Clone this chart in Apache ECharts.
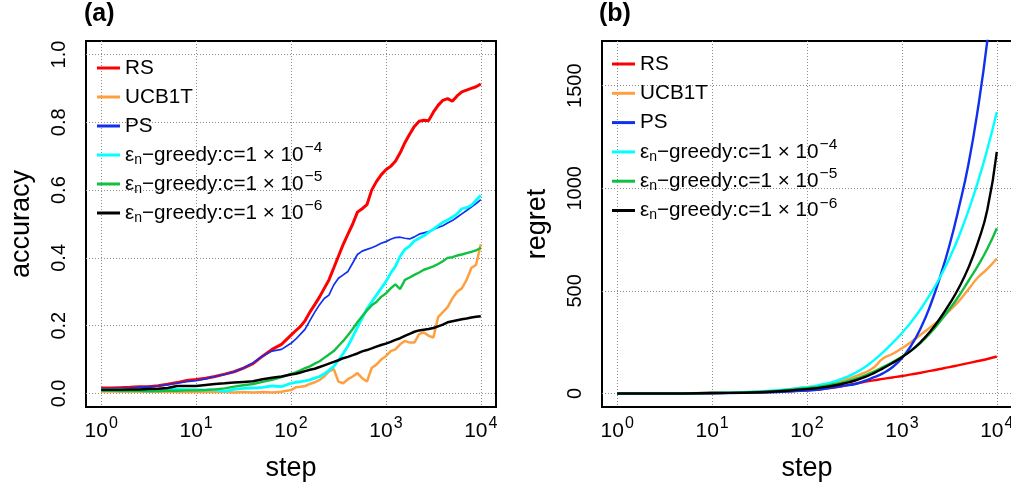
<!DOCTYPE html>
<html>
<head>
<meta charset="utf-8">
<script src="https://cdn.jsdelivr.net/npm/echarts@6/dist/echarts.min.js"></script>
<style>
  html, body { margin: 0; padding: 0; background: #fff; }
  #chart { width: 1011px; height: 486px; }
</style>
</head>
<body>
<div id="chart"></div>
<script>
// ---------- data ----------
const seriesNames = ['RS', 'UCB1T', 'PS', 'eps4', 'eps5', 'eps6'];
const expLabels = { eps4: '−4', eps5: '−5', eps6: '−6' };
const xTicks = [1, 10, 100, 1000, 10000];
const accTicks = [0, 0.2, 0.4, 0.6, 0.8, 1.0];
const regTicks = [0, 500, 1000, 1500];

// panel (a): accuracy vs step
const stepsA = [1, 1.26, 1.58, 2, 2.51, 3.16, 3.98, 5.01, 6.31, 7.94, 10, 12.6, 15.8, 20, 25.1, 31.6, 39.8, 50.1, 63.1, 79.4, 100,
  112, 126, 141, 158, 178, 200, 224, 251, 282, 316, 355, 398, 447, 501, 562, 631, 708, 794, 891, 1000,
  1122, 1259, 1413, 1585, 1778, 1995, 2239, 2512, 2818, 3162, 3548, 3981, 4467, 5012, 5623, 6310, 7079, 7943, 8913, 10000];
const accRS = [.016,.016,.017,.018,.02,.02,.023,.027,.032,.038,.041,.045,.05,.057,.064,.075,.088,.11,.13,.145,.172,
  .185,.198,.215,.24,.262,.285,.31,.335,.37,.405,.44,.47,.5,.535,.545,.557,.6,.625,.645,.66,
  .67,.685,.71,.74,.765,.788,.803,.806,.805,.83,.85,.865,.87,.862,.878,.89,.895,.9,.905,.913];
const accUCB = [.006,.006,.006,.006,.006,.006,.005,.005,.004,.004,.004,.005,.004,.004,.003,.004,.003,.004,.003,.005,.01,
  .018,.02,.022,.028,.033,.04,.05,.065,.072,.035,.03,.042,.05,.06,.045,.035,.075,.085,.1,.11,
  .125,.13,.145,.155,.15,.15,.175,.18,.17,.165,.225,.24,.255,.28,.3,.31,.335,.37,.38,.44];
const accPS = [.014,.014,.015,.016,.018,.02,.022,.026,.03,.035,.038,.043,.05,.056,.064,.075,.09,.11,.125,.13,.148,
  .16,.175,.19,.215,.24,.262,.28,.29,.32,.34,.35,.36,.385,.41,.42,.425,.43,.436,.443,.448,
  .455,.46,.461,.458,.456,.462,.47,.474,.478,.484,.49,.495,.503,.51,.52,.53,.54,.55,.56,.572];
const accEps4 = [.011,.011,.011,.011,.011,.011,.012,.012,.012,.011,.011,.01,.011,.006,.012,.015,.016,.018,.022,.02,.03,
  .033,.035,.037,.04,.045,.05,.058,.068,.08,.098,.118,.14,.167,.195,.222,.25,.27,.29,.31,.33,
  .355,.375,.405,.425,.435,.45,.458,.465,.475,.485,.495,.505,.512,.52,.53,.545,.548,.555,.57,.585];
const accEps5 = [.008,.008,.007,.007,.007,.006,.007,.008,.008,.009,.009,.01,.012,.015,.02,.024,.028,.034,.04,.048,.058,
  .062,.068,.075,.08,.088,.095,.105,.115,.125,.14,.155,.172,.19,.21,.228,.245,.26,.27,.285,.295,
  .31,.322,.308,.335,.342,.35,.357,.365,.37,.375,.382,.39,.4,.402,.407,.41,.414,.418,.422,.43];
const accEps6 = [.011,.011,.011,.012,.012,.013,.014,.016,.022,.022,.022,.025,.028,.03,.032,.034,.036,.042,.046,.05,.056,
  .058,.062,.066,.07,.073,.078,.083,.088,.093,.098,.104,.108,.113,.118,.124,.128,.133,.138,.143,.147,
  .152,.158,.163,.17,.176,.182,.186,.188,.19,.193,.198,.203,.21,.213,.216,.219,.221,.224,.226,.228];

// panel (b): regret vs step
const stepsB = [1, 3.16, 10, 31.6, 100, 126, 158, 200, 251, 316, 398, 501, 631, 794, 1000,
  1259, 1585, 1995, 2512, 3162, 3981, 5012, 6310, 7943, 10000];
const regRS = [0,0,2,5,15,19,24,30,38,47,56,64,71,78,85,93,101,110,119,128,138,148,158,168,180];
const regUCB = [0,0,2,8,30,36,44,54,66,82,100,125,170,192,220,252,287,323,360,402,450,507,565,607,658];
const regPS = [0,0,1,4,14,18,24,31,38,45,60,78,98,128,172,235,320,430,565,720,905,1115,1385,1720,2150];
const regEps4 = [0,1,3,10,30,38,48,60,77,98,125,160,200,245,295,350,413,485,565,658,765,890,1030,1190,1372];
const regEps5 = [0,0,2,7,26,31,38,46,56,70,86,105,128,152,179,210,248,295,350,410,475,548,622,705,805];
const regEps6 = [0,0,2,6,21,26,32,40,50,62,78,98,122,148,177,210,252,303,365,435,515,612,735,895,1177];

// ---------- styles ----------
const FONT = 'Liberation Sans, Arial, Helvetica, sans-serif';
const colors = { RS: '#ff0000', UCB1T: '#ffa040', PS: '#1030f0', eps4: '#00ffff', eps5: '#10c040', eps6: '#000000' };
const widthA = { RS: 3, UCB1T: 2.5, PS: 1.7, eps4: 2.8, eps5: 2.4, eps6: 2.5 };

const accData = { RS: accRS, UCB1T: accUCB, PS: accPS, eps4: accEps4, eps5: accEps5, eps6: accEps6 };
const regData = { RS: regRS, UCB1T: regUCB, PS: regPS, eps4: regEps4, eps5: regEps5, eps6: regEps6 };

function legendLabel(name) {
  if (expLabels[name]) {
    return '{m|ε}{sub|n}{m|−greedy:c=1 × 10}{sup|' + expLabels[name] + '}';
  }
  // trailing blank superscript keeps every legend row the same height
  return '{m|' + name + '}{sup| }';
}
const legendRich = {
  m: { fontSize: 20.7, fontFamily: FONT, color: '#000', lineHeight: 24 },
  sub: { fontSize: 14, fontFamily: FONT, color: '#000', lineHeight: 24, padding: [10, 0, 0, 0] },
  sup: { fontSize: 15.5, fontFamily: FONT, color: '#000', lineHeight: 24, padding: [0, 0, 14, 1] }
};

const gridLine = { show: true, lineStyle: { color: '#8c8c8c', width: 1, type: [1, 2] } };

function xAxisCfg(gridIndex) {
  return {
    type: 'log', logBase: 10, gridIndex,
    min: 0.6918, max: 14454,
    axisLine: { show: false },
    axisTick: { show: false, customValues: xTicks },
    splitLine: gridLine,
    axisLabel: {
      customValues: xTicks, margin: 9, color: '#000',
      formatter: v => '{b|10}{s|' + Math.round(Math.log10(v)) + '}',
      rich: {
        b: { fontSize: 21, fontFamily: FONT, color: '#000' },
        s: { fontSize: 16, fontFamily: FONT, color: '#000', padding: [0, 0, 14, 1] }
      }
    },
    name: 'step', nameLocation: 'middle', nameGap: 48,
    nameTextStyle: { fontSize: 27, fontFamily: FONT, color: '#000' }
  };
}

function yAxisCfg(gridIndex, min, max, ticks, fmt, name) {
  return {
    type: 'value', gridIndex, min, max,
    axisLine: { show: false },
    axisTick: { show: false, customValues: ticks },
    splitLine: gridLine,
    axisLabel: {
      customValues: ticks, rotate: 90, margin: 17, color: '#000',
      fontSize: 20, fontFamily: FONT, formatter: fmt
    },
    name, nameLocation: 'middle', nameGap: 51, nameRotate: 90,
    nameTextStyle: { fontSize: 27, fontFamily: FONT, color: '#000' }
  };
}

const series = [];
seriesNames.forEach(n => {
  series.push({
    name: n, type: 'line', xAxisIndex: 0, yAxisIndex: 0,
    data: stepsA.map((s, i) => [s, accData[n][i]]),
    showSymbol: false, color: colors[n],
    lineStyle: { color: colors[n], width: widthA[n] },
    animation: false, clip: true
  });
});
seriesNames.forEach(n => {
  series.push({
    name: n, type: 'line', xAxisIndex: 1, yAxisIndex: 1,
    data: stepsB.map((s, i) => [s, regData[n][i]]),
    showSymbol: false, smooth: 0.5, color: colors[n],
    lineStyle: { color: colors[n], width: 2.4 },
    animation: false, clip: true
  });
});

function legendCfg(left, top, gap) {
  return {
    show: true, orient: 'vertical', left, top, padding: 0, itemGap: gap,
    itemWidth: 23, itemHeight: 3, icon: 'rect', selectedMode: false,
    data: seriesNames, formatter: legendLabel,
    textStyle: { fontSize: 20.7, fontFamily: FONT, color: '#000', lineHeight: 24, rich: legendRich }
  };
}

const option = {
  backgroundColor: '#fff',
  animation: false,
  title: [
    { text: '(a)', left: 84, top: 2, padding: 0, textStyle: { fontSize: 25, fontWeight: 'bold', fontFamily: FONT, color: '#000' } },
    { text: '(b)', left: 599, top: 2, padding: 0, textStyle: { fontSize: 25, fontWeight: 'bold', fontFamily: FONT, color: '#000' } }
  ],
  grid: [
    { left: 86, top: 41, width: 410, height: 366, show: true, borderColor: '#000', borderWidth: 2, backgroundColor: 'transparent', containLabel: false, outerBoundsMode: 'none' },
    { left: 602, top: 41, width: 410, height: 366, show: true, borderColor: '#000', borderWidth: 2, backgroundColor: 'transparent', containLabel: false, outerBoundsMode: 'none' }
  ],
  xAxis: [xAxisCfg(0), xAxisCfg(1)],
  yAxis: [
    yAxisCfg(0, -0.04, 1.04, accTicks, v => v.toFixed(1), 'accuracy'),
    yAxisCfg(1, -66, 1717.7, regTicks, v => String(v), 'regret')
  ],
  legend: [legendCfg(97, 53, -1.0), legendCfg(612, 49, -0.7)],
  series
};

const chart = echarts.init(document.getElementById('chart'), null, { renderer: 'canvas' });
chart.setOption(option);
</script>
</body>
</html>
